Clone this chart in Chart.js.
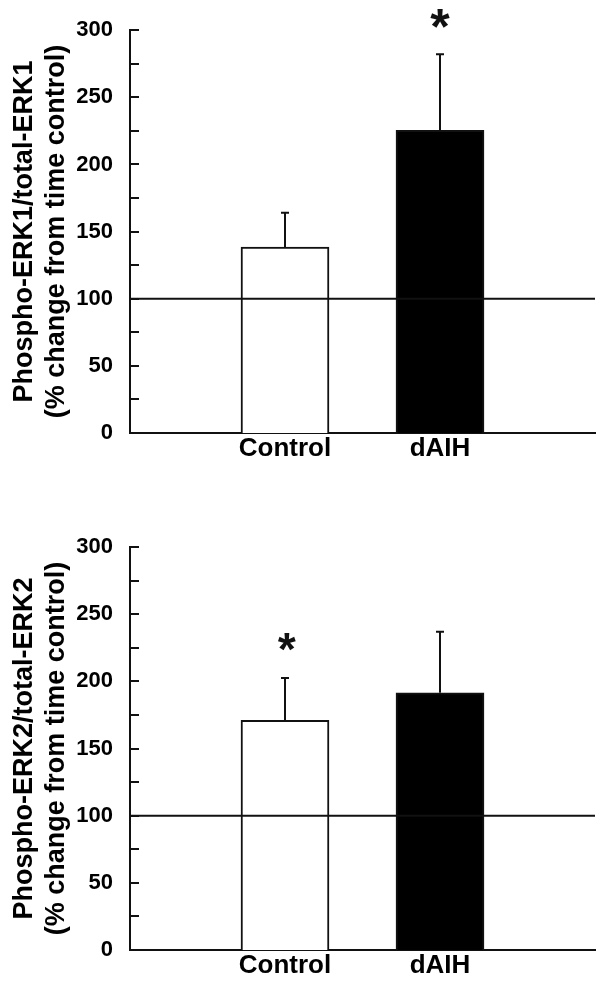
<!DOCTYPE html>
<html>
<head>
<meta charset="utf-8">
<script src="https://cdn.jsdelivr.net/npm/chart.js@4/dist/chart.umd.min.js"></script>
<style>
  html, body { margin: 0; padding: 0; background: #fff; }
  .chart-box { position: relative; width: 602px; height: 495px; }
</style>
</head>
<body>
<div class="chart-box"><canvas id="chart1"></canvas></div>
<div class="chart-box"><canvas id="chart2"></canvas></div>
<script>
// categories: blank slots at the ends keep the bars at 1/3 and 2/3 of the axis
const categories = ['', 'Control', 'dAIH', '']

// ERK1 panel
const erk1Means = [null, 138.5, 225.5, null]
const erk1ErrTop = [null, 164, 282, null]
const erk1Stars = [null, null, 309, null]   // y value where the * sits

// ERK2 panel
const erk2Means = [null, 171, 191.5, null]
const erk2ErrTop = [null, 202.5, 237, null]
const erk2Stars = [null, 229, null, null]

const yTicks = { min: 0, max: 300, step: 25, labelEvery: 50 }
const refLine = 100

const barFills = ['#fff', '#fff', '#000', '#fff']
const ink = '#111'

const fontFamily = 'Liberation Sans, Arial, sans-serif'

// draws reference line, inward ticks, error bars and stars from the scales
const extrasPlugin = {
  id: 'extras',
  afterDatasetsDraw (chart, args, opts) {
    const { ctx, chartArea } = chart
    const x = chart.scales.x
    const y = chart.scales.y
    ctx.save()
    ctx.strokeStyle = ink
    ctx.lineWidth = 2

    // reference line at 100
    const yRef = y.getPixelForValue(refLine)
    ctx.beginPath()
    ctx.moveTo(chartArea.left, yRef)
    ctx.lineTo(chartArea.right, yRef)
    ctx.stroke()

    // inward minor/major ticks
    y.ticks.forEach(t => {
      const py = Math.round(y.getPixelForValue(t.value))
      ctx.beginPath()
      ctx.moveTo(chartArea.left, py)
      ctx.lineTo(chartArea.left + 9, py)
      ctx.stroke()
    })

    // error bars (upper only)
    opts.errTop.forEach((v, i) => {
      if (v == null) return
      const px = Math.round(x.getPixelForValue(i))
      const top = y.getPixelForValue(v)
      const base = y.getPixelForValue(opts.means[i])
      ctx.beginPath()
      ctx.moveTo(px, base)
      ctx.lineTo(px, top)
      ctx.moveTo(px - 4, top)
      ctx.lineTo(px + 4, top)
      ctx.stroke()
    })

    // significance stars
    ctx.fillStyle = ink
    ctx.font = opts.starFont
    ctx.textAlign = 'center'
    ctx.textBaseline = 'alphabetic'
    opts.stars.forEach((v, i) => {
      if (v == null) return
      const m = ctx.measureText('*')
      const cy = y.getPixelForValue(v)
      const baseY = cy + (m.actualBoundingBoxAscent - m.actualBoundingBoxDescent) / 2
      ctx.fillText('*', x.getPixelForValue(i), baseY)
    })
    ctx.restore()
  }
}

function makeChart (id, means, errTop, stars, titleLines, padTop, padBottom, starFont) {
  return new Chart(document.getElementById(id), {
    type: 'bar',
    data: {
      labels: categories,
      datasets: [{
        data: means,
        backgroundColor: barFills,
        borderColor: ink,
        borderWidth: 2,
        borderSkipped: 'bottom',
        barThickness: 88
      }]
    },
    plugins: [extrasPlugin],
    options: {
      responsive: true,
      maintainAspectRatio: false,
      animation: false,
      events: [],
      layout: { padding: { top: padTop, bottom: padBottom, left: 0, right: 7 } },
      plugins: {
        legend: { display: false },
        tooltip: { enabled: false },
        extras: { means: means, errTop: errTop, stars: stars, starFont: starFont }
      },
      scales: {
        x: {
          offset: false,
          grid: { display: false, drawTicks: false, tickLength: 0 },
          border: { display: true, color: ink, width: 2 },
          ticks: {
            color: '#000',
            font: { family: fontFamily, weight: 'bold', size: 26 },
            padding: 0,
            maxRotation: 0,
            autoSkip: false
          },
          afterFit (s) { s.height = 40 }
        },
        y: {
          min: yTicks.min,
          max: yTicks.max,
          grid: { display: false, drawTicks: false, tickLength: 0 },
          border: { display: true, color: ink, width: 2 },
          ticks: {
            stepSize: yTicks.step,
            color: '#000',
            font: { family: fontFamily, weight: 'bold', size: 22 },
            padding: 17,
            callback: v => (v % yTicks.labelEvery === 0 ? v : '')
          },
          title: {
            display: true,
            text: titleLines,
            color: '#000',
            font: { family: fontFamily, weight: 'bold', size: 27, lineHeight: 1.18 },
            padding: { top: 9, bottom: 0 }
          },
          afterFit (s) { s.width = 130 }
        }
      }
    }
  })
}

makeChart('chart1', erk1Means, erk1ErrTop, erk1Stars,
  ['Phospho-ERK1/total-ERK1', '(% change from time control)'], 30, 22,
  'bold 50px Liberation Sans, Arial, sans-serif')
makeChart('chart2', erk2Means, erk2ErrTop, erk2Stars,
  ['Phospho-ERK2/total-ERK2', '(% change from time control)'], 52, 0,
  'italic bold 46px Liberation Sans, Arial, sans-serif')
</script>
</body>
</html>
